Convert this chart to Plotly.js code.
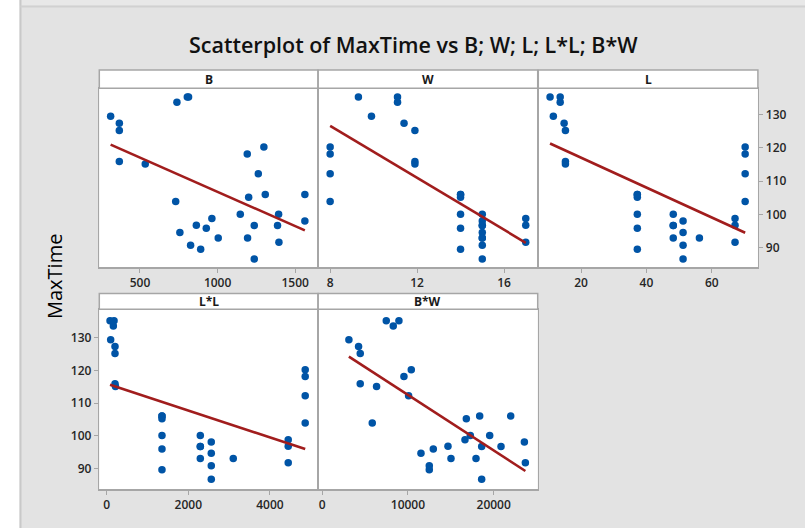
<!DOCTYPE html>
<html>
<head>
<meta charset="utf-8">
<script src="https://cdn.plot.ly/plotly-3.0.1.min.js"></script>
<style>
  html, body { margin: 0; padding: 0; background: #e3e3e3; }
  #chart { width: 805px; height: 528px; }
</style>
</head>
<body>
<div id="chart"></div>
<script>
// Observations: predictors B, W, L, the derived terms L*L and B*W, and the response MaxTime
const B       = [311, 367, 367, 367, 534, 738, 805, 813, 730, 1191, 1262, 1298, 891, 927, 1200, 1307, 1393, 1562, 757, 826, 1004, 1146, 1193, 1236, 1236, 1386, 1562, 863, 963, 1395];
const W       = [9.9, 11.4, 11.9, 11.9, 11.9, 11.1, 9.3, 11.1, 8, 8, 8, 8, 14, 14, 14, 14, 14, 14, 15, 15, 15, 15, 15, 15, 15, 15, 15, 17, 17, 17];
const L       = [11.5, 14.8, 15.2, 15.2, 15.2, 13.6, 10.5, 13.6, 70.2, 70.2, 70.2, 70.2, 37.2, 37.2, 37.2, 37.2, 37.2, 37.2, 51.2, 51.2, 48.2, 48.2, 56.2, 48.2, 51.2, 48.2, 51.2, 67.1, 67.1, 67.1];
const LL      = [98, 204, 204, 204, 215, 163, 82, 180, 4865, 4865, 4865, 4865, 1355, 1355, 1355, 1355, 1355, 1355, 2563, 2563, 2294, 2294, 3102, 2294, 2563, 2294, 2563, 4449, 4449, 4449];
const BW      = [3113, 4241, 4436, 4436, 6342, 8288, 7471, 8949, 5837, 9533, 10078, 10389, 12490, 12957, 16809, 18366, 19533, 21984, 11518, 12490, 15019, 17276, 17938, 18599, 18599, 20856, 23580, 14671, 16654, 23696];
const MaxTime = [129.4, 127.3, 125.2, 115.9, 115.1, 133.6, 135.2, 135.2, 103.9, 118.1, 112.2, 120.2, 89.6, 95.9, 105.2, 106.0, 100.1, 106.0, 94.6, 90.8, 93.0, 100.1, 93.0, 96.7, 86.7, 96.7, 98.1, 96.8, 98.8, 91.7];

const panelNames = ['B', 'W', 'L', 'L*L', 'B*W'];
const panelX = [B, W, L, LL, BW];
const xTickStep = [500, 4, 20, 2000, 10000];

// page geometry (pixels)
const PW = 805, PH = 528;
const px = v => v / PW;
const py = v => 1 - v / PH;
const cols = [[99.3, 317.9], [318.2, 537.7], [538.3, 757.9]];
const rows = [
  {strip: [70, 88.3], plot: [88.3, 267.3], yr: [84.2, 137.8]},
  {strip: [293.4, 309.3], plot: [309.3, 489.3], yr: [83.6, 138.7]}
];
const cells = [[0, 0], [0, 1], [0, 2], [1, 0], [1, 1]];
const xRanges = [[238, 1646], [7.45, 17.55], [6.9, 74.1], [-181, 5176], [-467, 25134]];

const AX = '#a6a6a6';
const tickFont = {family: 'Open Sans, sans-serif', size: 12, color: '#262626', weight: 600};

// ordinary least-squares fit for each panel
function fit(x, y) {
  const n = x.length;
  const mx = x.reduce((a, b) => a + b, 0) / n;
  const my = y.reduce((a, b) => a + b, 0) / n;
  let sxy = 0, sxx = 0;
  for (let i = 0; i < n; i++) { sxy += (x[i] - mx) * (y[i] - my); sxx += (x[i] - mx) ** 2; }
  const b1 = sxy / sxx;
  return {b0: my - b1 * mx, b1};
}

const traces = [];
const layout = {
  width: PW, height: PH,
  margin: {l: 0, r: 0, t: 0, b: 0},
  paper_bgcolor: '#e3e3e3',
  plot_bgcolor: '#ffffff',
  showlegend: false,
  shapes: [],
  annotations: []
};

// outer frame
layout.shapes.push(
  {type: 'rect', xref: 'paper', yref: 'paper', x0: 0, x1: px(19.5), y0: 0, y1: 1, fillcolor: '#ffffff', line: {width: 0}, layer: 'below'},
  {type: 'rect', xref: 'paper', yref: 'paper', x0: px(19.5), x1: 1, y0: py(5.5), y1: 1, fillcolor: '#e8e8e8', line: {width: 0}, layer: 'below'},
  {type: 'line', xref: 'paper', yref: 'paper', x0: px(20.5), x1: px(20.5), y0: 0, y1: 1, line: {color: '#c9c9c9', width: 2}},
  {type: 'line', xref: 'paper', yref: 'paper', x0: px(20.5), x1: 1, y0: py(6.5), y1: py(6.5), line: {color: '#d1d1d1', width: 2}}
);

cells.forEach(([r, c], i) => {
  const k = i === 0 ? '' : String(i + 1);
  const row = rows[r], col = cols[c];
  const xs = panelX[i];

  traces.push({
    type: 'scatter', mode: 'markers',
    x: xs, y: MaxTime,
    xaxis: 'x' + k, yaxis: 'y' + k,
    marker: {color: '#0054a6', size: 7.5, line: {width: 0}},
    hoverinfo: 'skip'
  });

  const f = fit(xs, MaxTime);
  const xmin = Math.min(...xs), xmax = Math.max(...xs);
  traces.push({
    type: 'scatter', mode: 'lines',
    x: [xmin, xmax], y: [f.b0 + f.b1 * xmin, f.b0 + f.b1 * xmax],
    xaxis: 'x' + k, yaxis: 'y' + k,
    line: {color: '#a11d1d', width: 2.6},
    hoverinfo: 'skip'
  });

  layout['xaxis' + k] = {
    domain: [px(col[0]), px(col[1])],
    anchor: 'y' + k,
    range: xRanges[i],
    dtick: xTickStep[i], tick0: 0,
    tickformat: 'd',
    ticks: 'outside', ticklen: 4, tickwidth: 1, tickcolor: AX,
    tickfont: tickFont,
    showline: true, mirror: true, linecolor: AX, linewidth: 1.5,
    showgrid: false, zeroline: false, fixedrange: true
  };

  const leftLabels = (r === 1 && c === 0);
  const rightLabels = (r === 0 && c === 2);
  layout['yaxis' + k] = {
    domain: [py(row.plot[1]), py(row.plot[0])],
    anchor: 'x' + k,
    side: rightLabels ? 'right' : 'left',
    range: row.yr,
    tick0: 90, dtick: 10,
    ticks: (leftLabels || rightLabels) ? 'outside' : '',
    showticklabels: leftLabels || rightLabels,
    ticklen: 4, tickwidth: 1, tickcolor: AX,
    tickfont: tickFont,
    showline: true, mirror: true, linecolor: AX, linewidth: 1.5,
    showgrid: false, zeroline: false, fixedrange: true
  };

  // panel header strip
  layout.shapes.push({
    type: 'rect', xref: 'paper', yref: 'paper',
    x0: px(col[0]), x1: px(col[1]), y0: py(row.strip[1]), y1: py(row.strip[0]),
    fillcolor: '#ffffff', line: {color: AX, width: 1.5}
  });
  layout.annotations.push({
    xref: 'paper', yref: 'paper',
    x: px((col[0] + col[1]) / 2), y: py((row.strip[0] + row.strip[1]) / 2),
    xanchor: 'center', yanchor: 'middle', showarrow: false,
    text: panelNames[i],
    font: {family: 'Open Sans, sans-serif', size: 12, color: '#1a1a1a', weight: 700}
  });
});

// chart title and shared response label
layout.annotations.push(
  {
    xref: 'paper', yref: 'paper', x: px(414), y: py(45),
    xanchor: 'center', yanchor: 'middle', showarrow: false,
    text: 'Scatterplot of MaxTime vs B; W; L; L*L; B*W',
    font: {family: 'Open Sans, sans-serif', size: 21.5, color: '#111111', weight: 600}
  },
  {
    xref: 'paper', yref: 'paper', x: px(54), y: py(276),
    xanchor: 'center', yanchor: 'middle', showarrow: false, textangle: -90,
    text: 'MaxTime',
    font: {family: 'Open Sans, sans-serif', size: 20, color: '#000000'}
  }
);

Plotly.newPlot('chart', traces, layout, {displayModeBar: false, staticPlot: true});
</script>
</body>
</html>
